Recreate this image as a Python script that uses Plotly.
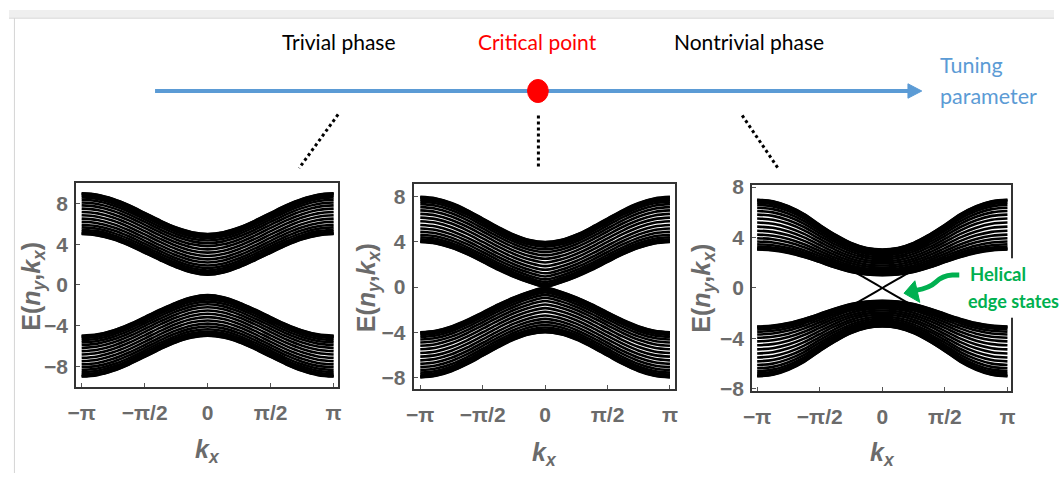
import math
import plotly.graph_objects as go

W, H = 1059, 483
PI = math.pi

# ---------------- data ----------------
# kx sample points on [0, pi]; spectra are symmetric in kx and E
k_half = [0, PI / 8, PI / 4, 3 * PI / 8, PI / 2, 5 * PI / 8, 3 * PI / 4, 7 * PI / 8, PI]

# upper bulk band: inner (gap-side) and outer envelopes, per panel
trivial_inner = [1.00, 1.21, 1.74, 2.42, 3.16, 3.88, 4.47, 4.86, 5.00]
trivial_outer = [5.00, 5.17, 5.63, 6.30, 7.07, 7.82, 8.44, 8.86, 9.00]
critical_inner = [0.05, 0.41, 0.92, 1.54, 2.24, 2.92, 3.49, 3.87, 4.00]
critical_outer = [4.00, 4.17, 4.64, 5.32, 6.08, 6.83, 7.45, 7.86, 8.00]
nontrivial_inner = [1.02, 1.07, 1.27, 1.62, 2.05, 2.45, 2.78, 2.98, 3.05]
nontrivial_outer = [3.05, 3.17, 3.57, 4.22, 5.00, 5.85, 6.48, 6.88, 7.00]

# relative position of the ribbon sub-bands inside each bulk band
subband_frac = [0.0, 0.007, 0.027, 0.060, 0.105, 0.161, 0.227, 0.299, 0.377, 0.459,
                0.541, 0.623, 0.701, 0.773, 0.839, 0.895, 0.940, 0.973, 0.993, 1.0]

# helical edge states of the nontrivial phase
edge_k = [-PI / 2, -3 * PI / 8, -PI / 4, -PI / 8, 0, PI / 8, PI / 4, 3 * PI / 8, PI / 2]
edge_E = [2.40, 2.05, 1.42, 0.72, 0.0, -0.72, -1.42, -2.05, -2.40]

x_tickvals = [-PI, -PI / 2, 0, PI / 2, PI]
x_ticktext = ["\u2212\u03c0", "\u2212\u03c0/2", "0", "\u03c0/2", "\u03c0"]
y_tickvals = [-8, -4, 0, 4, 8]
y_ticktext = ["\u22128", "\u22124", "0", "4", "8"]

phase_labels = ["Trivial phase", "Critical point", "Nontrivial phase"]

# ---------------- helpers ----------------
def px(x):
    return x / W


def py(y):
    return 1 - y / H


def mirror(half):
    return list(reversed(half)) + half[1:]


k_full = [-k for k in reversed(k_half)] + k_half[1:]

FONT = "Lato, Liberation Sans, Arial"
AXFONT = "Liberation Sans, Arial"
TICKCOL = "#6b6b6b"

fig = go.Figure()

panels = [
    (trivial_inner, trivial_outer, "x", "y"),
    (critical_inner, critical_outer, "x2", "y2"),
    (nontrivial_inner, nontrivial_outer, "x3", "y3"),
]

for inner, outer, xa, ya in panels:
    inn = mirror(inner)
    out = mirror(outer)
    for sign in (1, -1):
        xs, ys = [], []
        for f in subband_frac:
            xs += k_full + [None]
            ys += [sign * (a + f * (b - a)) for a, b in zip(inn, out)] + [None]
        fig.add_trace(go.Scatter(
            x=xs, y=ys, mode="lines", xaxis=xa, yaxis=ya,
            line=dict(color="black", width=2.6, shape="spline"),
            hoverinfo="skip", showlegend=False))

for sign in (1, -1):
    fig.add_trace(go.Scatter(
        x=edge_k, y=[sign * e for e in edge_E], mode="lines", xaxis="x3", yaxis="y3",
        line=dict(color="black", width=2, shape="spline"),
        hoverinfo="skip", showlegend=False))

# ---------------- axes ----------------
def axis_common():
    return dict(showline=True, linecolor="#333333", linewidth=2, mirror=True,
                ticks="inside", ticklen=4, tickwidth=1, tickcolor="#555555",
                showgrid=False, zeroline=False,
                tickfont=dict(family=AXFONT, size=21, color=TICKCOL, weight="bold"))


frames = [  # pixel boxes of the three frames
    (68, 333, 180, 393, [-3.28, 3.24], [-10.0, 10.05]),
    (410, 675, 182, 395, [-3.31, 3.27], [-9.0, 9.1]),
    (753, 1015, 183, 397, [-3.27, 3.22], [-8.13, 8.13]),
]
lay = {}
for i, (x0, x1, y0, y1, xr, yr) in enumerate(frames):
    s = "" if i == 0 else str(i + 1)
    xa = axis_common()
    xa.update(domain=[px(x0), px(x1)], range=xr, anchor="y" + s,
              tickvals=x_tickvals, ticktext=x_ticktext, ticklabelstandoff=6)
    ya = axis_common()
    ya.update(domain=[py(y1), py(y0)], range=yr, anchor="x" + s,
              tickvals=y_tickvals, ticktext=y_ticktext, ticklabelstandoff=2)
    lay["xaxis" + s] = xa
    lay["yaxis" + s] = ya
fig.update_layout(**lay)

# ---------------- annotations ----------------
ann = []
ytitle = "E(<i>n</i><sub><i>y</i></sub>,<i>k</i><sub><i>x</i></sub>)"
xtitle = "<i>k</i><sub><i>x</i></sub>"
for (xt, yt, xk, yk) in [(24, 288, 201, 460), (364, 290, 543, 463), (703, 290, 885, 463)]:
    ann.append(dict(x=px(xt), y=py(yt), xref="paper", yref="paper", text=ytitle,
                    textangle=-90, showarrow=False, xanchor="center", yanchor="middle",
                    font=dict(family=AXFONT, size=25, color=TICKCOL, weight="bold")))
    ann.append(dict(x=px(xk), y=py(yk), xref="paper", yref="paper", text=xtitle,
                    showarrow=False, xanchor="center", yanchor="middle",
                    font=dict(family=AXFONT, size=25, color=TICKCOL, weight="bold")))

for txt, xc, col in zip(phase_labels, [334, 536, 750], ["black", "#ff0000", "black"]):
    ann.append(dict(x=px(xc), y=py(33), xref="paper", yref="paper", text=txt,
                    showarrow=False, xanchor="center", yanchor="middle",
                    font=dict(family=FONT, size=21, color=col)))

ann.append(dict(x=px(941), y=py(57), xref="paper", yref="paper", text="Tuning",
                showarrow=False, xanchor="left", yanchor="middle",
                font=dict(family=FONT, size=21.5, color="#5b9bd5")))
ann.append(dict(x=px(941), y=py(90), xref="paper", yref="paper", text="parameter",
                showarrow=False, xanchor="left", yanchor="middle",
                font=dict(family=FONT, size=21.5, color="#5b9bd5")))

ann.append(dict(x=px(972), y=py(275), xref="paper", yref="paper", text="<b>Helical</b>",
                showarrow=False, xanchor="left", yanchor="middle",
                font=dict(family=FONT, size=18.5, color="#00b050")))
ann.append(dict(x=px(970), y=py(304), xref="paper", yref="paper", text="<b>edge states</b>",
                showarrow=False, xanchor="left", yanchor="middle",
                font=dict(family=FONT, size=18, color="#00b050")))

# ---------------- shapes ----------------
def pt(x, y):
    return f"{px(x):.5f},{py(y):.5f}"


shapes = [
    dict(type="rect", xref="paper", yref="paper", x0=0, x1=1, y0=py(8), y1=1,
         fillcolor="#efefef", line=dict(width=0), layer="below"),
    dict(type="line", xref="paper", yref="paper", x0=0, x1=1, y0=py(8.5), y1=py(8.5),
         line=dict(color="#d4d4d4", width=1)),
    dict(type="line", xref="paper", yref="paper", x0=px(5.5), x1=px(5.5), y0=py(8.5), y1=0,
         line=dict(color="#d4d4d4", width=1)),
    # tuning-parameter arrow
    dict(type="line", xref="paper", yref="paper", x0=px(148), x1=px(914), y0=py(84.5), y1=py(84.5),
         line=dict(color="#5b9bd5", width=4)),
    dict(type="path", xref="paper", yref="paper",
         path=f"M {pt(911, 77)} L {pt(925, 84.5)} L {pt(911, 92)} Z",
         fillcolor="#5b9bd5", line=dict(color="#5b9bd5", width=1)),
    dict(type="circle", xref="paper", yref="paper", x0=px(525.5), x1=px(546.5),
         y0=py(96.5), y1=py(72.5), fillcolor="#ff0000", line=dict(color="#ff0000", width=1)),
    # dotted connectors
    dict(type="line", xref="paper", yref="paper", x0=px(333.5), y0=py(109), x1=px(294), y1=py(165),
         line=dict(color="black", width=3, dash="dot")),
    dict(type="line", xref="paper", yref="paper", x0=px(536.5), y0=py(110), x1=px(536.5), y1=py(166),
         line=dict(color="black", width=3, dash="dot")),
    dict(type="line", xref="paper", yref="paper", x0=px(743), y0=py(110), x1=px(780), y1=py(166),
         line=dict(color="black", width=3, dash="dot")),
    # white box behind the helical label
    dict(type="rect", xref="paper", yref="paper", x0=px(1010), x1=px(1020), y0=py(321), y1=py(259),
         fillcolor="white", line=dict(width=0), layer="above"),
    # green curved arrow
    dict(type="path", xref="paper", yref="paper",
         path=f"M {pt(963, 276.5)} L {pt(956, 276.5)} C {pt(948, 277)} {pt(943, 280)} {pt(939, 284)} "
              f"C {pt(935, 288)} {pt(930, 290.5)} {pt(919, 292.5)}",
         line=dict(color="#00b050", width=5)),
    dict(type="path", xref="paper", yref="paper",
         path=f"M {pt(907, 295.5)} L {pt(918, 282.5)} L {pt(923, 305)} Z",
         fillcolor="#00b050", line=dict(color="#00b050", width=1)),
]

fig.update_layout(
    width=W, height=H, margin=dict(l=0, r=0, t=0, b=0),
    paper_bgcolor="white", plot_bgcolor="white",
    showlegend=False, annotations=ann, shapes=shapes,
)

fig.write_html("out.html")
